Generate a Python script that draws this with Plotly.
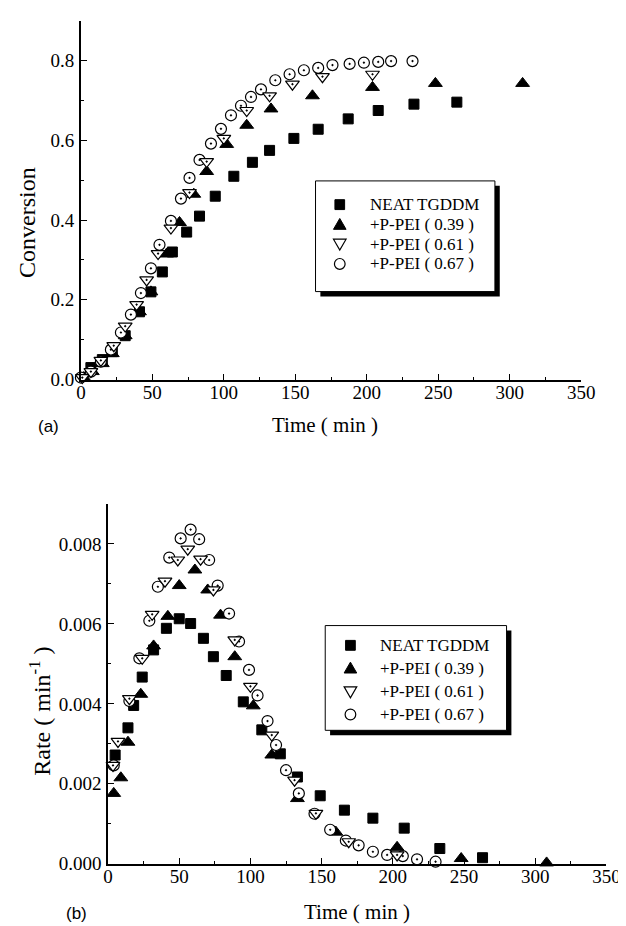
import plotly.graph_objects as go

W, H = 626, 926

# ---------------- data: panel (a) conversion ----------------
t_neat_a = [7, 15, 22, 31, 41, 49, 57, 64, 74, 83, 94, 107, 120, 132, 149, 166, 187, 208, 233, 263]
c_neat_a = [0.03, 0.05, 0.07, 0.11, 0.17, 0.22, 0.27, 0.32, 0.37, 0.41, 0.46, 0.51, 0.545, 0.575,
            0.605, 0.628, 0.654, 0.675, 0.691, 0.696]
t_039_a = [2, 8, 15, 22, 31, 41, 49, 60, 69, 79, 88, 102, 116, 133, 162, 204, 248, 309]
c_039_a = [0.005, 0.02, 0.04, 0.065, 0.11, 0.17, 0.22, 0.315, 0.394, 0.465, 0.522, 0.59, 0.638,
           0.679, 0.712, 0.733, 0.743, 0.743]
t_061_a = [1, 7, 14, 23, 31, 39, 46, 54, 63, 76, 88, 100, 116, 132, 148, 169, 204]
c_061_a = [0.005, 0.02, 0.048, 0.085, 0.134, 0.188, 0.25, 0.316, 0.38, 0.469, 0.547, 0.605, 0.675,
           0.712, 0.741, 0.76, 0.766]
t_067_a = [0, 7, 14, 21, 28, 35, 42, 49, 55, 63, 70, 76, 83, 91, 98, 105, 112, 119, 126, 136, 146,
           156, 166, 176, 188, 198, 208, 217, 232]
c_067_a = [0.005, 0.02, 0.045, 0.075, 0.118, 0.163, 0.217, 0.279, 0.338, 0.398, 0.454, 0.506, 0.551,
           0.592, 0.629, 0.663, 0.687, 0.709, 0.728, 0.751, 0.766, 0.776, 0.782, 0.789, 0.792, 0.795,
           0.797, 0.799, 0.799]

# ---------------- data: panel (b) rate ----------------
t_neat_b = [5, 14, 18, 24, 32, 41, 50, 58, 67, 74, 83, 95, 108, 121, 133, 149, 166, 186, 208, 233, 263]
r_neat_b = [0.00272, 0.0034, 0.00396, 0.00467, 0.00535, 0.00589, 0.00613, 0.00601, 0.00564, 0.00518,
            0.00471, 0.00405, 0.00335, 0.00275, 0.00217, 0.0017, 0.00134, 0.00114, 0.00089, 0.00038,
            0.00015]
t_039_b = [4, 9, 14, 23, 32, 42, 50, 61, 70, 79, 89, 102, 115, 133, 160, 203, 248, 308]
r_039_b = [0.00176, 0.00215, 0.00304, 0.00424, 0.00545, 0.00619, 0.00696, 0.00735, 0.00685, 0.00622,
           0.00518, 0.00395, 0.00272, 0.00163, 0.00079, 0.00041, 0.00013, 0.00002]
t_061_b = [3.5, 7, 15, 24, 31, 40, 49, 56, 65, 74, 89, 100, 115, 131, 146, 169, 203]
r_061_b = [0.00246, 0.00306, 0.00413, 0.00514, 0.00624, 0.00707, 0.0076, 0.00787, 0.00762, 0.00685,
           0.0056, 0.00444, 0.00322, 0.00209, 0.00126, 0.00055, 0.00022]
t_067_b = [4, 15, 22, 29, 35, 43, 51, 58, 64, 71, 77, 85, 92, 99, 105, 112, 118, 125, 134, 145, 156,
           167, 176, 186, 196, 207, 217, 230]
r_067_b = [0.00246, 0.00407, 0.00514, 0.00608, 0.00693, 0.00766, 0.00814, 0.00836, 0.00812, 0.0076,
           0.00696, 0.00626, 0.00556, 0.00485, 0.00421, 0.00357, 0.00297, 0.00234, 0.00176, 0.00125,
           0.00085, 0.00058, 0.00046, 0.0003, 0.00022, 0.00019, 0.00011, 0.00005]

names = ["NEAT TGDDM", "+P-PEI ( 0.39 )", "+P-PEI ( 0.61 )", "+P-PEI ( 0.67 )"]
x_ticks = [0, 50, 100, 150, 200, 250, 300, 350]
y_ticks_a = [0.0, 0.2, 0.4, 0.6, 0.8]
y_ticks_b = [0.000, 0.002, 0.004, 0.006, 0.008]

SERIF = "Liberation Serif"
SANS = "Liberation Sans"


def px(x):
    return x / W


def py(y):
    return 1 - y / H


kinds = ["square", "tri_up", "tri_down", "circle"]
styles = [
    dict(symbol="square", size=10, color="black", line=dict(color="black", width=1)),
    dict(symbol="triangle-up", size=12, color="black", line=dict(color="black", width=1)),
    dict(symbol="triangle-down-dot", size=12, color="white", line=dict(color="black", width=1.2)),
    dict(symbol="circle-dot", size=11, color="white", line=dict(color="black", width=1.2)),
]
draw_order = [0, 1, 3, 2]

fig = go.Figure()

series_a = [(t_neat_a, c_neat_a), (t_039_a, c_039_a), (t_061_a, c_061_a), (t_067_a, c_067_a)]
series_b = [(t_neat_b, r_neat_b), (t_039_b, r_039_b), (t_061_b, r_061_b), (t_067_b, r_067_b)]

for i in draw_order:
    fig.add_trace(go.Scatter(x=series_a[i][0], y=series_a[i][1], mode="markers", name=names[i],
                             marker=styles[i], xaxis="x", yaxis="y", showlegend=False,
                             cliponaxis=False))
for i in draw_order:
    fig.add_trace(go.Scatter(x=series_b[i][0], y=series_b[i][1], mode="markers", name=names[i],
                             marker=styles[i], xaxis="x2", yaxis="y2", showlegend=False,
                             cliponaxis=False))

axis_common = dict(showline=True, linecolor="black", linewidth=1.5, ticks="inside", ticklen=6,
                   tickwidth=1.2, tickcolor="black", showgrid=False, zeroline=False, mirror=False,
                   tickfont=dict(family=SERIF, size=19, color="black"))

xminor = dict(ticks="inside", ticklen=3, dtick=25, tickcolor="black")
fig.update_layout(
    xaxis=dict(domain=[px(70), px(586)], range=[0, 350], tickvals=x_ticks, anchor="y",
               minor=xminor, ticklabelstandoff=-5, **axis_common),
    yaxis=dict(domain=[py(376), py(13)], range=[0, 0.9], tickvals=y_ticks_a, tickformat=".1f",
               anchor="x", minor=dict(ticks="inside", ticklen=3, dtick=0.1, tickcolor="black"),
               ticklabelstandoff=1, **axis_common),
    xaxis2=dict(domain=[px(98), px(612)], range=[0, 350], tickvals=x_ticks, anchor="y2",
                minor=xminor, ticklabelstandoff=-5, **axis_common),
    yaxis2=dict(domain=[py(866), py(502)], range=[0, 0.009], tickvals=y_ticks_b, tickformat=".3f",
                anchor="x2", minor=dict(ticks="inside", ticklen=3, dtick=0.001, tickcolor="black"),
                ticklabelstandoff=1, **axis_common),
)

shapes = []
annotations = []


def P(x, y):
    return f"{px(x):.5f},{py(y):.5f}"


def glyph(kind, cx, cy):
    base = dict(xref="paper", yref="paper", layer="above")
    if kind == "square":
        shapes.append(dict(type="rect", x0=px(cx - 5), x1=px(cx + 5), y0=py(cy + 5), y1=py(cy - 5),
                           fillcolor="black", line=dict(color="black", width=1), **base))
    elif kind == "tri_up":
        path = f"M{P(cx - 6.5, cy + 5)} L{P(cx + 6.5, cy + 5)} L{P(cx, cy - 6)} Z"
        shapes.append(dict(type="path", path=path, fillcolor="black",
                           line=dict(color="black", width=1), **base))
    elif kind == "tri_down":
        path = f"M{P(cx - 6.5, cy - 5)} L{P(cx + 6.5, cy - 5)} L{P(cx, cy + 6)} Z"
        shapes.append(dict(type="path", path=path, fillcolor="white",
                           line=dict(color="black", width=1.2), **base))
    else:
        shapes.append(dict(type="circle", x0=px(cx - 5.5), x1=px(cx + 5.5), y0=py(cy + 5.5),
                           y1=py(cy - 5.5), fillcolor="white", line=dict(color="black", width=1.2),
                           **base))


def legend_block(x0, y0, x1, y1, mx, tx, rows):
    base = dict(xref="paper", yref="paper", layer="above")
    shapes.append(dict(type="rect", x0=px(x0 + 5), x1=px(x1 + 5), y0=py(y1 + 5), y1=py(y0 + 5),
                       fillcolor="black", line=dict(width=0), **base))
    shapes.append(dict(type="rect", x0=px(x0), x1=px(x1), y0=py(y1), y1=py(y0),
                       fillcolor="white", line=dict(color="black", width=1), **base))
    for k, name, ry in zip(kinds, names, rows):
        glyph(k, mx, ry)
        annotations.append(dict(text=name, x=px(tx), y=py(ry), xanchor="left", yanchor="middle",
                                font=dict(family=SERIF, size=17)))


legend_block(312, 175, 497, 287, 337, 366, [199, 219, 239, 259])
legend_block(322, 625, 509, 731, 348, 376, [645, 668, 692, 715])

texts = [
    dict(text="Conversion", x=px(15), y=py(217), textangle=-90, font=dict(family=SERIF, size=24)),
    dict(text="Time ( min )", x=px(322), y=py(422), font=dict(family=SERIF, size=21)),
    dict(text="(a)", x=px(37), y=py(424), font=dict(family=SANS, size=17)),
    dict(text="Rate ( min<sup>-1</sup> )", x=px(27), y=py(712), textangle=-90,
         font=dict(family=SERIF, size=24)),
    dict(text="Time ( min )", x=px(355), y=py(915), font=dict(family=SERIF, size=21)),
    dict(text="(b)", x=px(65), y=py(916), font=dict(family=SANS, size=17)),
]
for a in texts:
    a.update(xanchor="center", yanchor="middle")
annotations.extend(texts)
for a in annotations:
    a.update(xref="paper", yref="paper", showarrow=False)
    a["font"]["color"] = "black"

fig.update_layout(width=W, height=H, margin=dict(l=0, r=0, t=0, b=0),
                  paper_bgcolor="white", plot_bgcolor="white", showlegend=False,
                  shapes=shapes, annotations=annotations)

fig.write_html("out.html")
